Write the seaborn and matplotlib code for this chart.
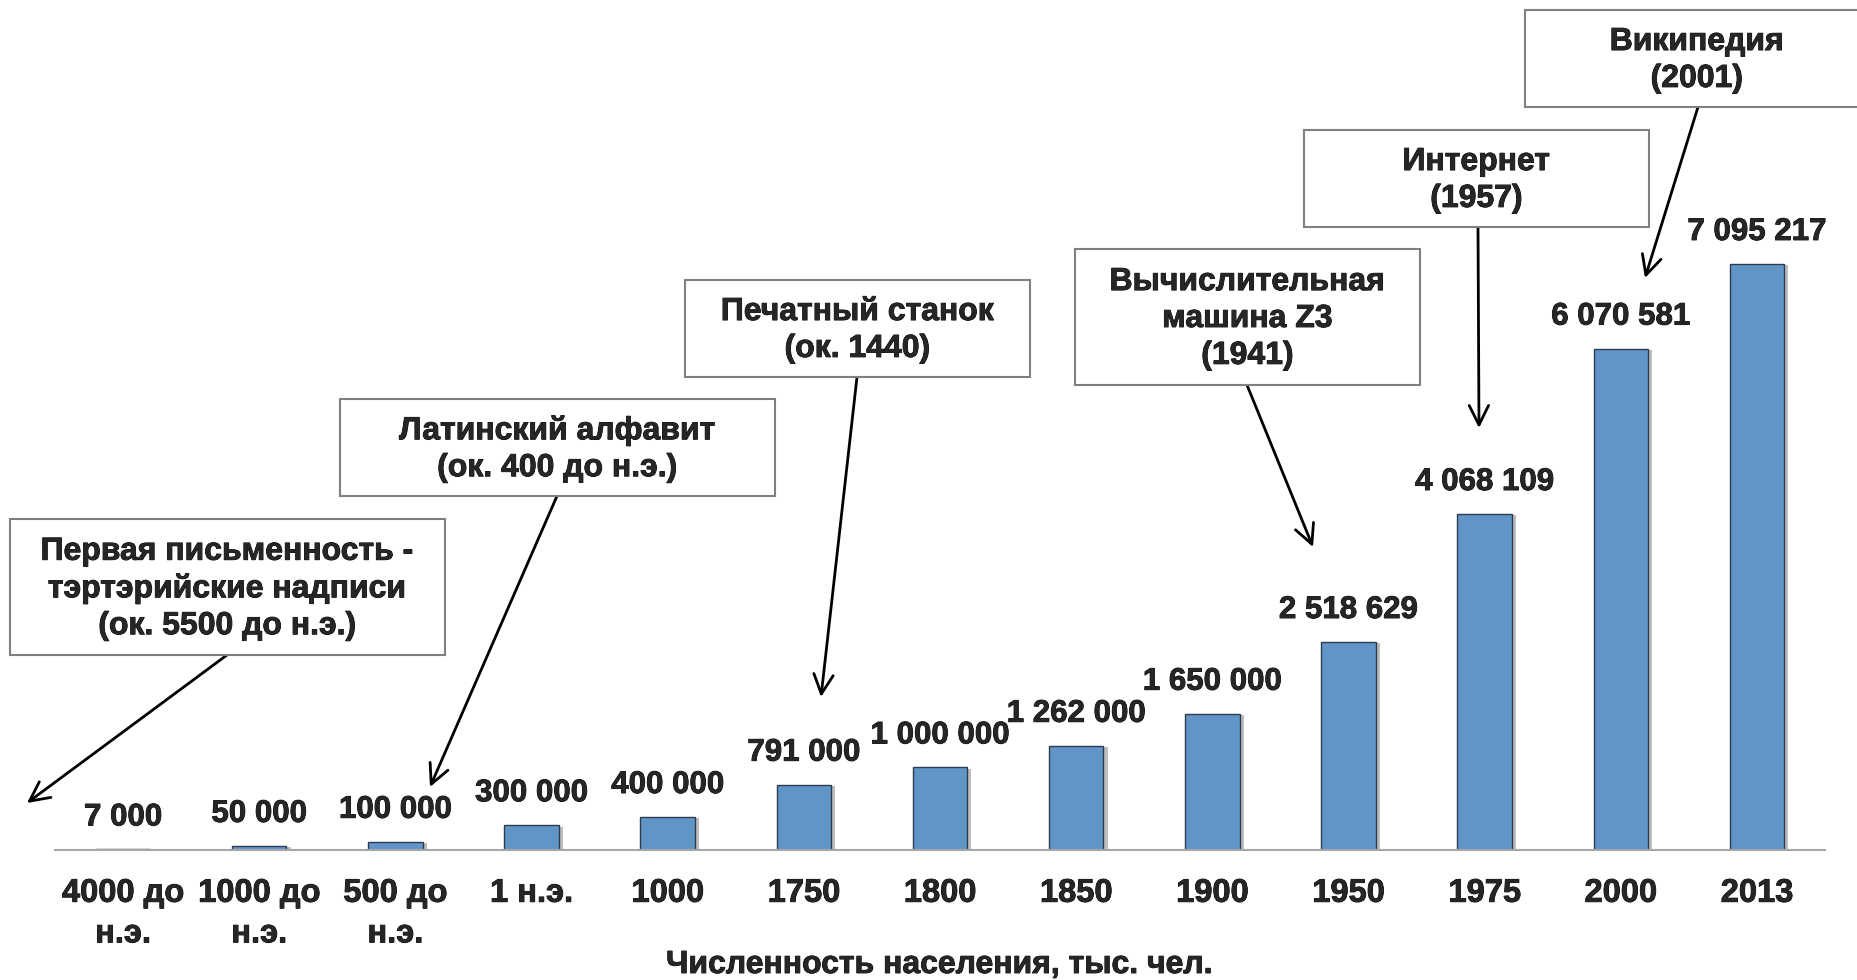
import numpy as np
import matplotlib
matplotlib.use("Agg")
import matplotlib.pyplot as plt
import matplotlib.patheffects as pe
from matplotlib.patches import Rectangle
import seaborn as sns

# --- data -------------------------------------------------------------
categories = ["4000 до\nн.э.", "1000 до\nн.э.", "500 до\nн.э.", "1 н.э.", "1000",
              "1750", "1800", "1850", "1900", "1950", "1975", "2000", "2013"]
population = [7000, 50000, 100000, 300000, 400000, 791000, 1000000,
              1262000, 1650000, 2518629, 4068109, 6070581, 7095217]
x_title = "Численность населения, тыс. чел."

event_labels = [
    "Первая письменность -\nтэртэрийские надписи\n(ок. 5500 до н.э.)",
    "Латинский алфавит\n(ок. 400 до н.э.)",
    "Печатный станок\n(ок. 1440)",
    "Вычислительная\nмашина Z3\n(1941)",
    "Интернет\n(1957)",
    "Википедия\n(2001)",
]

# --- layout (figure pixels, from top-left) -----------------------------
W, H = 1858, 980
box_px = [(10, 519, 445, 655), (340, 399, 775, 496), (685, 280, 1030, 377),
          (1075, 249, 1420, 385), (1304, 130, 1649, 227), (1525, 10, 1869, 107)]
arrow_px = [((227, 655), (27, 803)), ((557, 496), (430, 787)),
            ((857, 377), (821, 697)), ((1247, 385), (1313, 547)),
            ((1478, 227), (1479, 428)), ((1698, 107), (1645, 278))]

BAR_COLOR = "#6195c8"
AXIS_GRAY = "#a6a6a6"
BOLDER = [pe.withStroke(linewidth=0.6, foreground="black")]

sns.set_style("white")
plt.rcParams["font.family"] = ["Liberation Sans", "DejaVu Sans"]
plt.rcParams["font.weight"] = "bold"


def fx(x):
    return x / W


def fy(y):
    return 1 - y / H


fig = plt.figure(figsize=(W / 100, H / 100), dpi=100)
ax = fig.add_axes([fx(55), fy(850), (1825 - 55) / W, 850 / H])

sns.barplot(x=categories, y=population, color=BAR_COLOR, width=0.4,
            edgecolor="#2e3b4e", linewidth=1.0, saturation=1, ax=ax)

for bar in ax.patches:
    bar.set_path_effects([pe.SimplePatchShadow(offset=(3, -1), shadow_rgbFace="#7f7f7f", alpha=0.5),
                          pe.Normal()])

for i, v in enumerate(population):
    ax.annotate(f"{v:,}".replace(",", " "), (i, v), xytext=(0, 23),
                textcoords="offset points", ha="center", va="center",
                fontsize=22.5, fontweight="bold", path_effects=BOLDER)

ax.set_xlim(-0.5, len(categories) - 0.5)
ax.set_ylim(0, 850 / 82.6 * 1e6)
ax.set_yticks([])
for s in ["left", "top", "right"]:
    ax.spines[s].set_visible(False)
ax.spines["bottom"].set_color(AXIS_GRAY)
ax.spines["bottom"].set_linewidth(1.5)

ax.set_xticks(range(len(categories)))
ax.set_xticklabels(categories, fontsize=23.5, fontweight="bold", linespacing=1.4,
                   path_effects=BOLDER)
ax.set_xticks(np.arange(-0.5, len(categories), 1), minor=True)
ax.tick_params(axis="x", which="major", length=0, pad=20)
ax.tick_params(axis="x", which="minor", length=6.5, width=1.5, color=AXIS_GRAY, direction="out")

ax.set_xlabel(x_title, fontsize=23, fontweight="bold", path_effects=BOLDER)
ax.xaxis.label.set_va("center")
ax.xaxis.set_label_coords(0.5, -(965 - 850) / 850)

# event boxes with arrows
for label, (x0, y0, x1, y1), (start, tip) in zip(event_labels, box_px, arrow_px):
    fig.add_artist(Rectangle((fx(x0), fy(y1)), (x1 - x0) / W, (y1 - y0) / H,
                             transform=fig.transFigure, facecolor="white",
                             edgecolor="#808080", linewidth=1.5, zorder=2))
    fig.text(fx((x0 + x1) / 2), fy((y0 + y1) / 2 + 2), label, ha="center", va="center",
             multialignment="center", fontsize=23, fontweight="bold",
             linespacing=1.3, zorder=3, path_effects=BOLDER)
    ax.annotate("", xy=(tip[0], H - tip[1]), xytext=(start[0], H - start[1]),
                xycoords="figure pixels", textcoords="figure pixels",
                arrowprops=dict(arrowstyle="->,head_length=0.7,head_width=0.35",
                                color="black", lw=2, shrinkA=0, shrinkB=0,
                                mutation_scale=20))

fig.savefig("out.png", dpi=100)
plt.close(fig)
